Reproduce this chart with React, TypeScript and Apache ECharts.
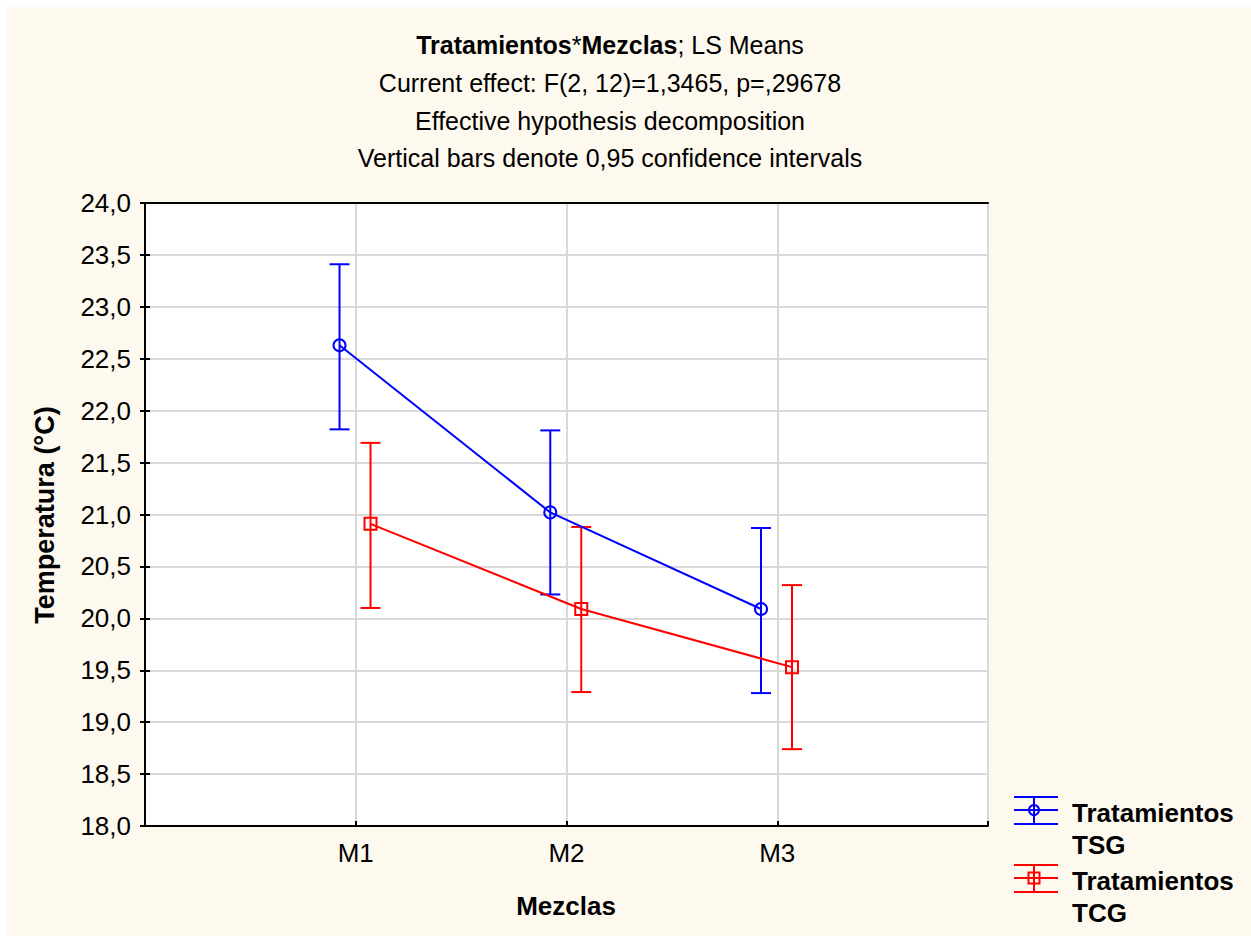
import React, { useEffect, useRef } from "react";
import * as echarts from "echarts";

const categories = ["M1", "M2", "M3"];
const tsgMean = [22.63, 21.02, 20.09];
const tsgLow = [21.82, 20.23, 19.28];
const tsgHigh = [23.41, 21.81, 20.87];
const tcgMean = [20.91, 20.09, 19.53];
const tcgLow = [20.1, 19.29, 18.74];
const tcgHigh = [21.69, 20.88, 20.32];
const yMin = 18;
const yMax = 24;
const yStep = 0.5;
const titleLines = [
  "Current effect: F(2, 12)=1,3465, p=,29678",
  "Effective hypothesis decomposition",
  "Vertical bars denote 0,95 confidence intervals",
];
const legendNames = [["Tratamientos", "TSG"], ["Tratamientos", "TCG"]];

const BLUE = "#0000FF";
const RED = "#FF0000";
const FONT = "'Liberation Sans', Arial, sans-serif";
const BG = "#FEF9EE";

function errorSeries(name: string, color: string, offset: number, low: number[], high: number[]) {
  return {
    name: name + "-err",
    type: "custom",
    z: 3,
    data: low.map((l, i) => [i + 1 + offset, l, high[i]]),
    encode: { x: 0, y: [1, 2] },
    renderItem: (params: any, api: any) => {
      const x = api.value(0);
      const pLo = api.coord([x, api.value(1)]);
      const pHi = api.coord([x, api.value(2)]);
      const hw = 10;
      const st = { stroke: color, lineWidth: 2 };
      return {
        type: "group",
        children: [
          { type: "line", shape: { x1: pLo[0], y1: pLo[1], x2: pHi[0], y2: pHi[1] }, style: st },
          { type: "line", shape: { x1: pLo[0] - hw, y1: pLo[1], x2: pLo[0] + hw, y2: pLo[1] }, style: st },
          { type: "line", shape: { x1: pHi[0] - hw, y1: pHi[1], x2: pHi[0] + hw, y2: pHi[1] }, style: st },
        ],
      };
    },
  };
}

function meanSeries(name: string, color: string, offset: number, mean: number[], symbol: string) {
  return {
    name,
    type: "line",
    z: 4,
    data: mean.map((m, i) => [i + 1 + offset, m]),
    symbol,
    symbolSize: 12,
    lineStyle: { color, width: 2 },
    itemStyle: { color: "transparent", borderColor: color, borderWidth: 2 },
  };
}

function legendItem(y: number, color: string, kind: string, names: string[]) {
  const x0 = 1007, x1 = 1051, cx = 1027;
  const st = { stroke: color, lineWidth: 2 };
  const marker =
    kind === "circle"
      ? { type: "circle", shape: { cx, cy: y, r: 5 }, style: { fill: "transparent", stroke: color, lineWidth: 2 } }
      : { type: "rect", shape: { x: cx - 5.5, y: y - 5.5, width: 11, height: 11 }, style: { fill: "transparent", stroke: color, lineWidth: 2 } };
  return [
    { type: "line", shape: { x1: x0, y1: y - 13, x2: x1, y2: y - 13 }, style: st },
    { type: "line", shape: { x1: x0, y1: y, x2: x1, y2: y }, style: st },
    { type: "line", shape: { x1: x0, y1: y + 14, x2: x1, y2: y + 14 }, style: st },
    { type: "line", shape: { x1: cx, y1: y - 13, x2: cx, y2: y + 14 }, style: st },
    marker,
    {
      type: "text", x: 1065, y: y + 3,
      style: { text: names[0], font: `bold 26px ${FONT}`, fill: "#000", textAlign: "left", textVerticalAlign: "middle" },
    },
    {
      type: "text", x: 1065, y: y + 35,
      style: { text: names[1], font: `bold 26px ${FONT}`, fill: "#000", textAlign: "left", textVerticalAlign: "middle" },
    },
  ];
}

export default function App() {
  const ref = useRef<HTMLDivElement>(null);
  useEffect(() => {
    if (!ref.current) return;
    const chart = echarts.init(ref.current, null, { renderer: "svg" });
    const axisLine = { show: true, lineStyle: { color: "#000", width: 2 } };
    const fmtY = (v: number) => v.toFixed(1).replace(".", ",");
    chart.setOption({
      animation: false,
      backgroundColor: BG,
      grid: { left: 138, top: 196, width: 843, height: 623, show: true, backgroundColor: "#fff", borderWidth: 0 },
      xAxis: [
        {
          type: "value", min: 0, max: 4, interval: 1,
          axisLine, axisTick: { show: true, inside: true, length: 5, lineStyle: { color: "#000", width: 2 } },
          axisLabel: {
            margin: 14, fontSize: 26, fontFamily: FONT, color: "#000",
            formatter: (v: number) => categories[v - 1] ?? "",
          },
          splitLine: { show: true, lineStyle: { color: "#D9D9D9", width: 2 } },
        },
        {
          type: "value", min: 0, max: 4, interval: 1, position: "top",
          axisLine, axisTick: { show: false }, axisLabel: { show: false }, splitLine: { show: false },
        },
      ],
      yAxis: [
        {
          type: "value", min: yMin, max: yMax, interval: yStep,
          axisLine, axisTick: { show: true, inside: true, length: 5, lineStyle: { color: "#000", width: 2 } },
          axisLabel: { margin: 14, fontSize: 26, fontFamily: FONT, color: "#000", formatter: fmtY },
          splitLine: { show: true, lineStyle: { color: "#D9D9D9", width: 2 } },
        },
        {
          type: "value", min: yMin, max: yMax, interval: yStep, position: "right",
          axisLine, axisTick: { show: true, inside: true, length: 5, lineStyle: { color: "#000", width: 2 } },
          axisLabel: { show: false }, splitLine: { show: false },
        },
      ],
      graphic: [
        {
          type: "text", x: 603, y: 38,
          style: {
            text: "{b|Tratamientos}*{b|Mezclas}; LS Means",
            font: `25px ${FONT}`, fill: "#000", textAlign: "center", textVerticalAlign: "middle",
            rich: { b: { fontWeight: "bold", fontSize: 25, fontFamily: FONT, fill: "#000" } },
          },
        },
        ...titleLines.map((t, i) => ({
          type: "text", x: 603, y: 76 + i * 37.5,
          style: { text: t, font: `25px ${FONT}`, fill: "#000", textAlign: "center", textVerticalAlign: "middle" },
        })),
        {
          type: "text", x: 38, y: 508, rotation: Math.PI / 2,
          style: { text: "Temperatura (°C)", font: `bold 27px ${FONT}`, fill: "#000", textAlign: "center", textVerticalAlign: "middle" },
        },
        {
          type: "text", x: 559, y: 899,
          style: { text: "Mezclas", font: `bold 26px ${FONT}`, fill: "#000", textAlign: "center", textVerticalAlign: "middle" },
        },
        ...legendItem(803, BLUE, "circle", legendNames[0]),
        ...legendItem(871, RED, "rect", legendNames[1]),
      ],
      series: [
        errorSeries("TSG", BLUE, -0.077, tsgLow, tsgHigh),
        errorSeries("TCG", RED, 0.07, tcgLow, tcgHigh),
        meanSeries("TSG", BLUE, -0.077, tsgMean, "circle"),
        meanSeries("TCG", RED, 0.07, tcgMean, "rect"),
      ],
    });
    return () => chart.dispose();
  }, []);
  return (
    <div style={{ position: "fixed", left: 0, top: 0, width: 1251, height: 936, background: "#fff" }}>
      <div ref={ref} style={{ position: "absolute", left: 7, top: 7, width: 1244, height: 929 }} />
    </div>
  );
}
